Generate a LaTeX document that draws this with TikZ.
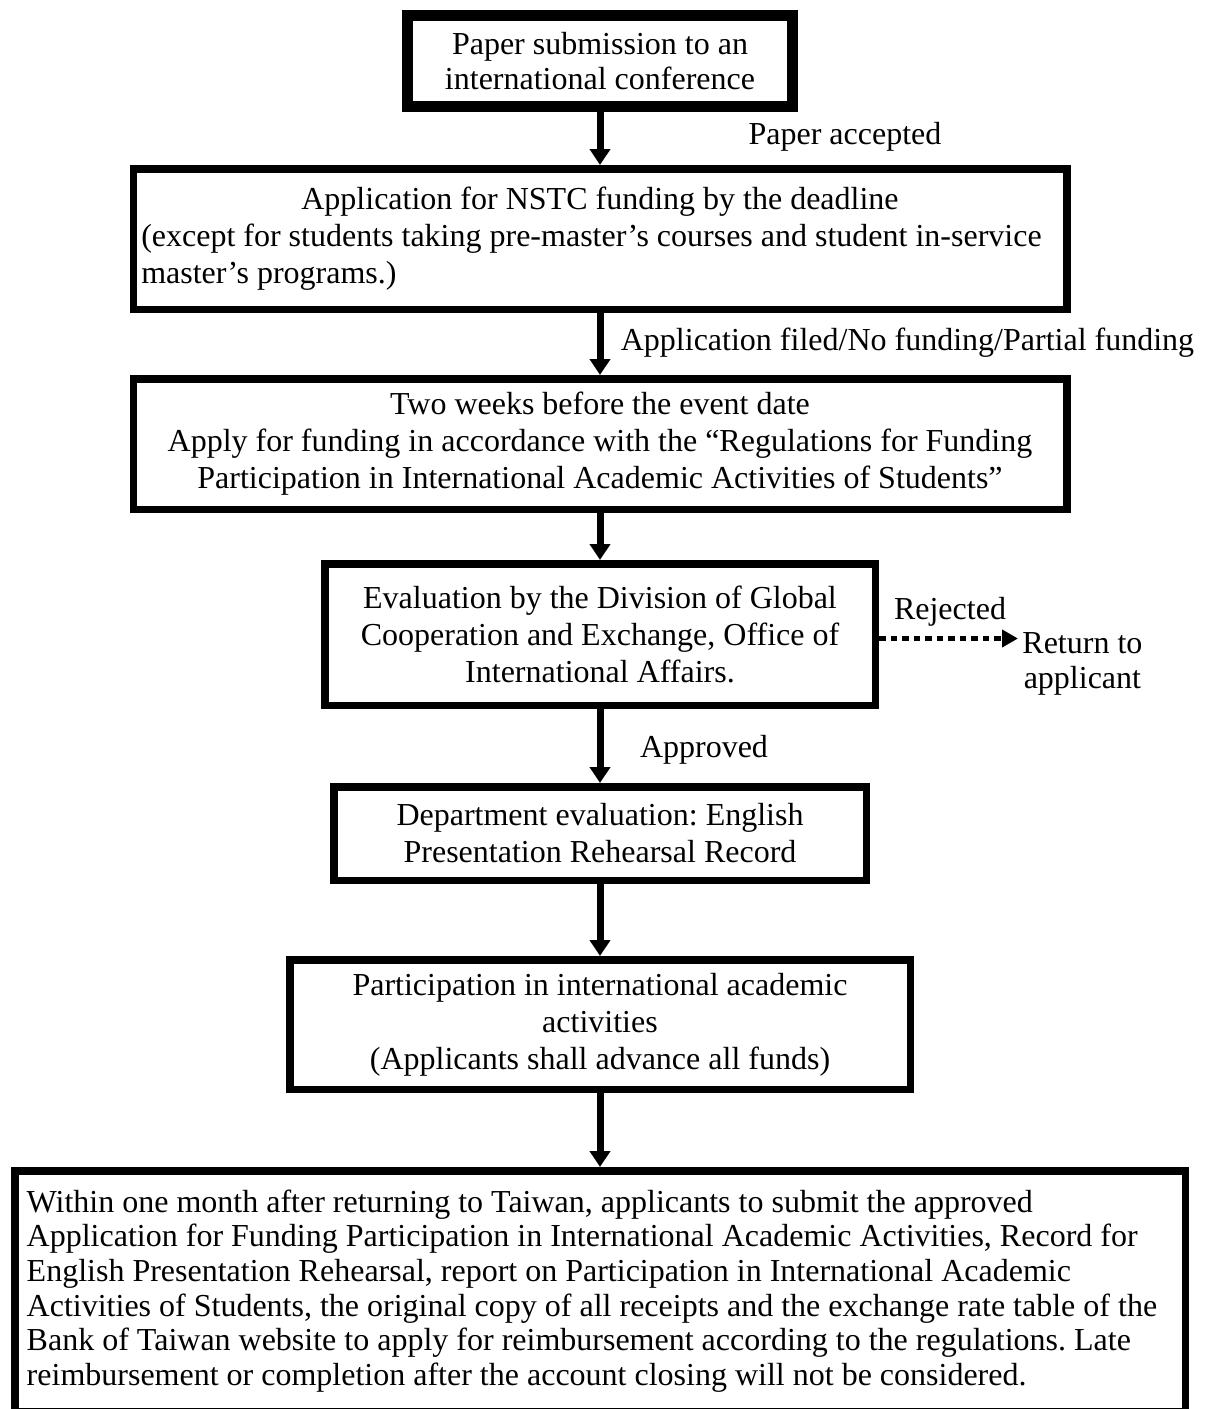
\documentclass[tikz,border=0pt]{standalone}
\usepackage{fontspec}
\setmainfont{Liberation Serif}
\usetikzlibrary{arrows.meta}
\frenchspacing

\tikzset{
    flowbox/.style = {draw, line width = 3.75pt, inner sep = 5pt, align = center,
        font = \fontsize{16pt}{18.5pt}\selectfont},
    flowtext/.style = {inner sep = 2pt, font = \fontsize{16pt}{17.5pt}\selectfont},
    flowarrow/.style = {-{Triangle[width = 10pt, length = 8pt]}, line width = 3.5pt},
    rejectarrow/.style = {-{Triangle[width = 8.5pt, length = 8pt]}, line width = 2.5pt,
        dash pattern = on 3.25pt off 2.5pt}
}

\begin{document}
\begin{tikzpicture}[x = 0.5pt, y = -0.5pt]

        % Page frame, measured in pixels of the chart.
        \useasboundingbox (0, 0) rectangle (1211, 1409);

        % Step boxes, from top to bottom.
        \node[flowbox, line width = 5.5pt, minimum width = 192.5pt, minimum height = 45.5pt,
            font = \fontsize{16pt}{17.5pt}\selectfont] (paper) at (600, 61)
            {Paper submission to an\\international conference};

        \node[flowbox, align = flush left, inner xsep = 4pt, text width = 458.75pt,
            minimum height = 70.25pt] (nstc) at (600, 239)
            {{\centering Application for NSTC funding by the deadline\par}%
            (except for students taking pre-master’s courses and student in-service\\
            master’s programs.)};

        \node[flowbox, minimum width = 466.75pt, minimum height = 65.25pt] (apply) at (600, 444)
            {Two weeks before the event date\\
            Apply for funding in accordance with the “Regulations for Funding\\
            Participation in International Academic Activities of Students”};

        \node[flowbox, minimum width = 275.25pt, minimum height = 70.75pt] (eval) at (600, 634.5)
            {Evaluation by the Division of Global\\
            Cooperation and Exchange, Office of\\
            International Affairs.};

        \node[flowbox, minimum width = 266.25pt, minimum height = 46.75pt] (dept) at (600, 833.5)
            {Department evaluation: English\\Presentation Rehearsal Record};

        \node[flowbox, minimum width = 310.25pt, minimum height = 64.75pt] (funds) at (600, 1024.5)
            {Participation in international academic\\
            activities\\
            (Applicants shall advance all funds)};

        \node[flowbox, align = flush left, inner xsep = 6pt, text width = 573.25pt,
            minimum height = 120.25pt, font = \fontsize{16pt}{17.3pt}\selectfont]
            (reimb) at (600, 1291)
            {Within one month after returning to Taiwan, applicants to submit the approved\\
            Application for Funding Participation in International Academic Activities, Record for\\
            English Presentation Rehearsal, report on Participation in International Academic\\
            Activities of Students, the original copy of all receipts and the exchange rate table of the\\
            Bank of Taiwan website to apply for reimbursement according to the regulations. Late\\
            reimbursement or completion after the account closing will not be considered.};

        % Solid arrows joining each step to the next.
        \foreach \from/\to in {paper/nstc, nstc/apply, apply/eval, eval/dept, dept/funds, funds/reimb}{
            \draw[flowarrow] (\from) -- (\to);
        }

        % Texts beside the arrows.
        \node[flowtext] (accepted) at (845, 137) {Paper accepted};
        \node[flowtext] (filed) at (907.5, 343) {Application filed/No funding/Partial funding};
        \node[flowtext] (approved) at (704, 750) {Approved};

        % Side branch for a rejected application.
        \node[flowtext] (rejected) at (950, 612) {Rejected};
        \node[flowtext, align = center, anchor = west] (back) at (1018, 664) {Return to\\applicant};
        \coordinate (rejectstart) at ([yshift = -2pt] eval.east);
        \draw[rejectarrow] (rejectstart) -- (rejectstart -| back.west);
    \end{tikzpicture}
\end{document}
